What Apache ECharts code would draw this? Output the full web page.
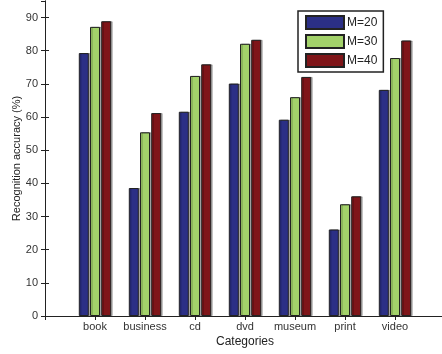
<!DOCTYPE html>
<html>
<head>
<meta charset="utf-8">
<script src="https://cdn.jsdelivr.net/npm/echarts@6/dist/echarts.min.js"></script>
<style>
  html, body { margin: 0; padding: 0; background: #fff; }
  #chart { width: 442px; height: 354px; }
</style>
</head>
<body>
<div id="chart"></div>
<script>
// Recognition accuracy per category for three values of M
const categories = ['book', 'business', 'cd', 'dvd', 'museum', 'print', 'video'];
const seriesNames = ['M=20', 'M=30', 'M=40'];
const accM20 = [79.3, 38.6, 61.6, 70.1, 59.2, 26.1, 68.2];
const accM30 = [87.2, 55.4, 72.4, 82.1, 66.0, 33.7, 77.8];
const accM40 = [88.9, 61.2, 75.9, 83.3, 72.1, 36.1, 83.1];
const yTicks = [0, 10, 20, 30, 40, 50, 60, 70, 80, 90];

const colors = ['#2b2f86', '#a3d26a', '#7f1519'];
const FONT = "'Liberation Sans', Arial, sans-serif";
const INK = '#222';

// Categories sit at positions 1..7 on a 0..8 value axis
const toPoints = vals => vals.map((v, i) => [i + 1, v]);

const chart = echarts.init(document.getElementById('chart'), null, { renderer: 'canvas' });

const makeSeries = (name, vals, color) => ({
  name: name,
  type: 'bar',
  data: toPoints(vals),
  barWidth: 10,
  barGap: '12%',
  itemStyle: {
    color: color,
    borderColor: INK,
    borderWidth: 1,
    shadowColor: 'rgba(0,0,0,0.28)',
    shadowOffsetX: 1.5,
    shadowOffsetY: 0,
    shadowBlur: 0
  },
  emphasis: { disabled: true }
});

const xAxisBase = {
  type: 'value',
  min: 0,
  max: 8,
  interval: 1,
  splitLine: { show: false },
  axisLine: { show: true, lineStyle: { color: INK, width: 1 } },
  axisTick: { show: true, inside: true, length: 4, lineStyle: { color: INK } }
};

const yAxisBase = {
  type: 'value',
  min: 0,
  max: 95,
  interval: 10,
  splitLine: { show: false },
  axisLine: { show: true, lineStyle: { color: INK, width: 1 } },
  axisTick: { show: true, inside: true, length: 4, lineStyle: { color: INK } }
};

chart.setOption({
  animation: false,
  textStyle: { fontFamily: FONT },
  grid: { left: 45, right: -3, top: 1, bottom: 38, containLabel: false, outerBoundsMode: 'none' },
  legend: {
    orient: 'vertical',
    left: 298,
    top: 11,
    data: seriesNames.map(n => ({ name: n, icon: 'rect' })),
    itemWidth: 38,
    itemHeight: 13,
    itemGap: 4,
    padding: [4, 6, 4, 7],
    borderColor: INK,
    borderWidth: 1.5,
    backgroundColor: '#fff',
    textStyle: { fontFamily: FONT, fontSize: 12, color: '#222', padding: [0, 0, 0, -2] }
  },
  xAxis: [
    Object.assign({}, xAxisBase, {
      position: 'bottom',
      name: 'Categories',
      nameLocation: 'middle',
      nameGap: 20,
      nameMoveOverlap: false,
      nameTextStyle: { fontFamily: FONT, fontSize: 12, color: '#222' },
      axisLabel: {
        margin: 5,
        fontFamily: FONT,
        fontSize: 11,
        color: '#333',
        formatter: v => categories[v - 1] || ''
      }
    }),
    Object.assign({}, xAxisBase, {
      position: 'top',
      axisLabel: { show: false }
    })
  ],
  yAxis: [
    Object.assign({}, yAxisBase, {
      position: 'left',
      name: 'Recognition accuracy (%)',
      nameLocation: 'middle',
      nameGap: 23,
      nameMoveOverlap: false,
      nameTextStyle: { fontFamily: FONT, fontSize: 11, color: '#222' },
      axisLabel: {
        margin: 7,
        fontFamily: FONT,
        fontSize: 11,
        color: '#333',
        showMaxLabel: false,
        formatter: v => (yTicks.indexOf(v) >= 0 ? String(v) : '')
      }
    }),
    Object.assign({}, yAxisBase, {
      position: 'right',
      axisLabel: { show: false }
    })
  ],
  series: [
    makeSeries(seriesNames[0], accM20, colors[0]),
    makeSeries(seriesNames[1], accM30, colors[1]),
    makeSeries(seriesNames[2], accM40, colors[2])
  ]
});
</script>
</body>
</html>
